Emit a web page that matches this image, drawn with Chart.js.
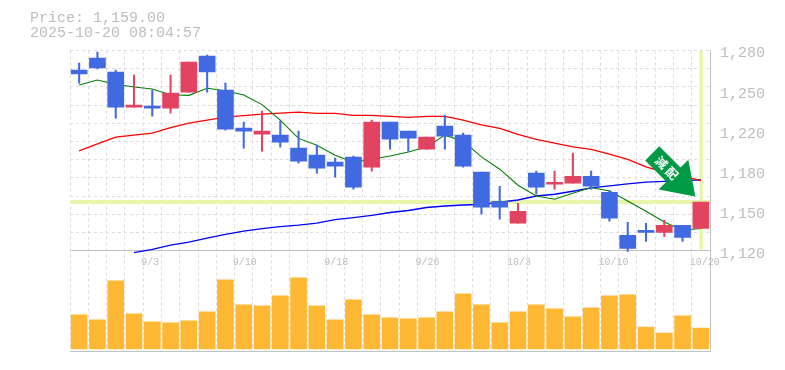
<!DOCTYPE html>
<html>
<head>
<meta charset="utf-8">
<style>
html, body { margin: 0; padding: 0; background: #fff; }
#wrap { width: 785px; height: 370px; }
</style>
<script src="https://cdn.jsdelivr.net/npm/chart.js@4"></script>
</head>
<body>
<div id="wrap"><canvas id="stock_chart" width="785" height="370"></canvas></div>
<script>
const priceText = 'Price: 1,159.00'
const timeText = '2025-10-20 08:04:57'
const lastPrice = 1159
const arrowChars = ['減','配']

const dates = ['8/28','8/29','9/1','9/2','9/3','9/4','9/5','9/8','9/9','9/10','9/11','9/12','9/16','9/17','9/18','9/19','9/22','9/24','9/25','9/26','9/29','9/30','10/1','10/2','10/3','10/6','10/7','10/8','10/9','10/10','10/14','10/15','10/16','10/17','10/20']
const shownDates = ['9/3','9/10','9/18','9/26','10/3','10/10','10/20']
const priceTicks = [1280,1248,1216,1184,1152,1120]

const opens = [1264.4,1274,1262.8,1234.8,1235.6,1234,1246.8,1275.6,1248.4,1218,1213.2,1212.4,1202,1196.4,1190.8,1194.8,1186.8,1222.8,1215.6,1201.2,1219.6,1212.4,1182.8,1159.6,1142,1182,1173.2,1174,1179.6,1166.8,1132.4,1136.4,1134.8,1140.4,1138]
const closes = [1261.2,1266,1234.8,1236.4,1234,1246,1270.8,1262.8,1217.2,1215.6,1215.6,1206.8,1191.6,1186,1187.6,1170.8,1222.8,1209.2,1210,1210.8,1211.6,1187.6,1154.8,1154.8,1151.6,1170.8,1174.8,1179.6,1171.6,1146,1122,1134.8,1140.4,1130.8,1159]
const highs = [1270,1278.8,1264.4,1260.4,1248.4,1260.4,1270.8,1276.4,1254,1222.8,1231.6,1223.6,1215.6,1204.4,1194,1195.6,1224.4,1222.8,1215.6,1210.8,1228.4,1214,1182.8,1171.6,1158,1183.6,1183.6,1198,1183.6,1168.4,1142.8,1142,1144.4,1140.4,1159]
const lows = [1254,1265.2,1226,1234.8,1227.6,1230,1246.8,1246.8,1216.4,1202,1199.6,1202.8,1190,1182,1178.8,1169.2,1183.6,1201.2,1199.6,1201.2,1201.2,1186.8,1149.2,1145.2,1142,1165.2,1169.2,1174,1169.2,1143.6,1119.6,1127.6,1131.6,1127.6,1138]

const maShort = [1252.4,1256.4,1253,1250.8,1249.2,1244.6,1244.2,1249.8,1247.8,1244.4,1236.8,1224.4,1209.8,1204.4,1196.4,1190.8,1193.2,1195.8,1199,1203,1212.4,1207.6,1195,1185.2,1172.4,1163.8,1161.2,1166,1170.6,1167.8,1159.8,1151.6,1143,1136.4,1137.8]
const maMiddle = [1199.8,1205.4,1210.8,1212.4,1214,1218.4,1222,1224.4,1226.8,1228,1229.2,1230,1230.8,1229.8,1229.8,1228.2,1228.2,1227.4,1226.6,1227.4,1227.4,1224.4,1220.6,1217.8,1213,1209,1206,1203,1201,1197.2,1193,1187,1182.8,1179.6,1176]
const maLong = [null,null,null,1118.6,1121.2,1124.6,1127,1130.2,1133.2,1135.8,1137.8,1139.4,1140.6,1142.2,1145,1146.6,1148.4,1150.6,1152.2,1154.6,1155.8,1156.6,1157,1158.8,1160.6,1163.8,1165.2,1167.6,1170.2,1171.8,1173.4,1174.8,1175.4,1176,1176.6]
const volumes = [34,29,68,35,27,26,28,37,69,44,43,53,71,43,29,49,34,31,30,31,37,55,44,26,37,44,40,32,41,53,54,22,16,33,21]

const UP = '#e24360'
const DOWN = '#4169e1'
const GRID = '#dcdcdc'
const AXIS = '#c0c0c0'
const TEXT = '#bdbdbd'
const MONO = '"Liberation Mono", monospace'

// price panel takes 200px of the 300px plot, volume sits under it
const panelMin = 1040

function fixWidth(w) { return function(scale) { scale.width = w } }
function fixHeight(h) { return function(scale) { scale.height = h } }

const candleColor = function(ctx) {
    return closes[ctx.dataIndex] >= opens[ctx.dataIndex] ? UP : DOWN
}

// price cross sits behind the marks, arrow on top of them
const overlay = {
    id: 'overlay',
    beforeDatasetsDraw(chart) {
        const c = chart.ctx, x = chart.scales.x, y = chart.scales.yPrice
        const px = x.getPixelForValue(dates.length - 1)
        const py = y.getPixelForValue(lastPrice)
        c.save()
        c.fillStyle = '#e6f5a8'
        c.fillRect(x.left, py - 2, x.right - x.left, 4)
        c.fillRect(px - 1.5, y.getPixelForValue(1280), 3.5, y.getPixelForValue(1120) - y.getPixelForValue(1280) - 1)
        c.restore()
    },
    afterDatasetsDraw(chart) {
        const c = chart.ctx, x = chart.scales.x, y = chart.scales.yPrice
        const tipX = x.getPixelForValue(dates.length - 1) - 5.5
        const tipY = y.getPixelForValue(lastPrice) - 5.5
        c.save()
        c.translate(tipX, tipY)
        c.rotate(Math.PI / 4)
        c.fillStyle = '#009944'
        c.beginPath()
        c.moveTo(0, 0)
        c.lineTo(-31, -21)
        c.lineTo(-31, -10)
        c.lineTo(-61, -10)
        c.lineTo(-61, 10)
        c.lineTo(-31, 10)
        c.lineTo(-31, 21)
        c.closePath()
        c.fill()
        c.fillStyle = '#fff'
        c.font = 'bold 12px "Noto Sans CJK JP"'
        c.textAlign = 'center'
        c.textBaseline = 'middle'
        c.fillText(arrowChars[0], -48, 0)
        c.fillText(arrowChars[1], -33, 0)
        c.restore()
    }
}

const ctx = document.getElementById('stock_chart')
const stockChart = new Chart(ctx, {
    plugins: [overlay],
    data: {
        labels: dates,
        datasets: [
            { type: 'bar', label: 'Volume', yAxisID: 'yVolume', data: volumes, backgroundColor: '#ffb833', barThickness: 16, grouped: false, order: 6 },
            { type: 'line', label: 'MA long', yAxisID: 'yPrice', data: maLong, borderColor: '#0000ff', borderWidth: 1.3, pointRadius: 0, tension: 0, order: 5 },
            { type: 'line', label: 'MA middle', yAxisID: 'yPrice', data: maMiddle, borderColor: '#ff0000', borderWidth: 1.3, pointRadius: 0, tension: 0, order: 4 },
            { type: 'line', label: 'MA short', yAxisID: 'yPrice', data: maShort, borderColor: '#008000', borderWidth: 1.1, pointRadius: 0, tension: 0, order: 3 },
            { type: 'bar', label: 'Wick', yAxisID: 'yPrice', data: dates.map((d, i) => [lows[i], highs[i]]), backgroundColor: candleColor, barThickness: 1.4, grouped: false, order: 2 },
            { type: 'bar', label: 'Body', yAxisID: 'yPrice', data: dates.map((d, i) => [opens[i], closes[i]]), backgroundColor: candleColor, barThickness: 16, grouped: false, order: 1 }
        ]
    },
    options: {
        responsive: false,
        animation: false,
        layout: { padding: { left: 30, right: 0, top: 0, bottom: 11 } },
        plugins: {
            legend: { display: false },
            tooltip: { enabled: false },
            title: {
                display: true,
                text: [priceText, timeText],
                align: 'start',
                color: TEXT,
                font: { family: MONO, size: 15, weight: 'normal', lineHeight: 1 },
                padding: { top: 11, bottom: 9.5 }
            }
        },
        scales: {
            x: {
                type: 'category',
                offset: true,
                afterFit: fixHeight(0),
                ticks: { display: false, autoSkip: false },
                grid: { color: GRID, offset: true, drawTicks: false },
                border: { color: AXIS, width: 1, dash: [3, 3] }
            },
            xDate: {
                type: 'category',
                axis: 'x',
                offset: true,
                position: { yPrice: 1120 },
                afterFit: fixHeight(0),
                grid: { display: false, drawTicks: false },
                border: { display: false },
                ticks: {
                    autoSkip: false,
                    maxRotation: 0,
                    align: 'start',
                    labelOffset: -11,
                    padding: 6,
                    color: TEXT,
                    font: { family: MONO, size: 10 },
                    callback: function(value) {
                        const label = this.getLabelForValue(value)
                        return shownDates.includes(label) ? label : ''
                    }
                }
            },
            yPrice: {
                position: 'right',
                min: panelMin,
                max: 1280,
                afterFit: fixWidth(75),
                afterBuildTicks: function(scale) { scale.ticks = priceTicks.map(v => ({ value: v })) },
                grid: { display: false, drawTicks: false },
                border: { color: AXIS, width: 1 },
                ticks: {
                    padding: 10,
                    labelOffset: 3,
                    color: TEXT,
                    font: { family: MONO, size: 15 },
                    callback: function(value) { return (Math.round(value / 10) * 10).toLocaleString('en-US') }
                }
            },
            yGrid: {
                position: 'left',
                min: panelMin,
                max: 1280,
                afterFit: fixWidth(40),
                afterBuildTicks: function(scale) {
                    scale.ticks = []
                    for (let i = 0; i <= 11; i++) scale.ticks.push({ value: 1120 + i * 160 / 11 })
                },
                ticks: { display: false },
                border: {
                    display: false,
                    dash: function(c) { return c.tick && c.tick.value === 1120 ? [] : [3, 3] }
                },
                grid: {
                    drawTicks: false,
                    color: function(c) { return c.tick && c.tick.value === 1120 ? AXIS : GRID }
                }
            },
            yVolume: {
                display: false,
                min: -2,
                max: 298
            }
        }
    }
})
</script>
</body>
</html>
